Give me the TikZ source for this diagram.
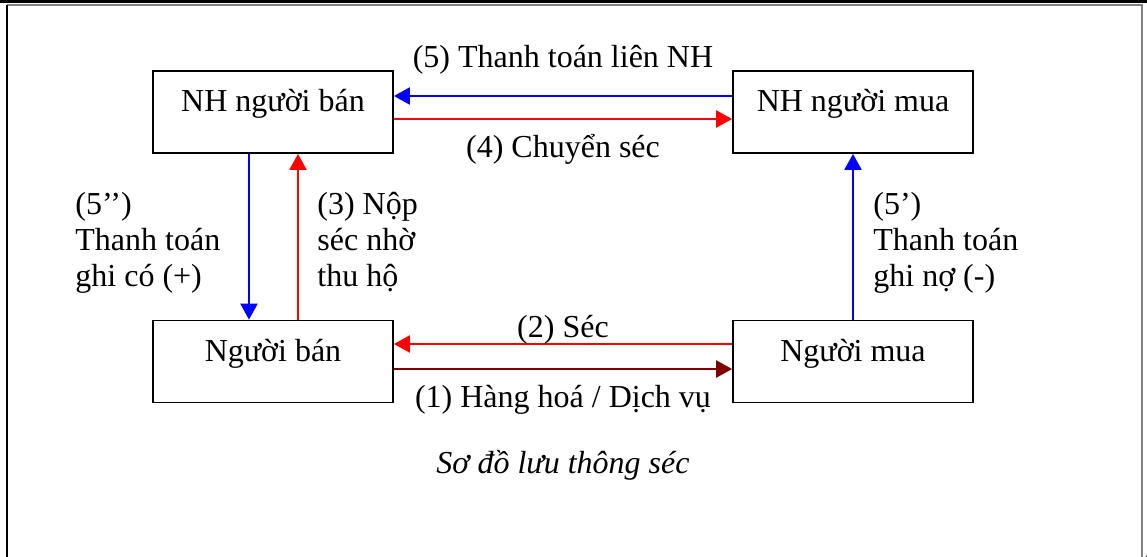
\documentclass[tikz,border=0pt]{standalone}
\usepackage{fontspec}
\setmainfont{Liberation Serif}
\usetikzlibrary{arrows.meta}
\definecolor{flowBlue}{RGB}{0, 0, 255}
\definecolor{flowRed}{RGB}{255, 0, 0}
\definecolor{goodsRed}{RGB}{128, 0, 0}
\definecolor{frameGrey}{RGB}{128, 128, 128}

\begin{document}
\begin{tikzpicture}[x=0.5pt, y=-0.5pt,
  font=\fontsize{16}{18}\selectfont,
  party/.style={draw, line width=0.9pt, minimum width=120pt, inner sep=0pt,
    text height=20.5pt, text depth=20.5pt},
  flow/.style={line width=1.2pt, -{Triangle[length=8pt,width=8.5pt]}},
  note/.style={align=left, anchor=base west, inner sep=0pt}]
  \useasboundingbox (0,0) rectangle (1147,557);

  % page rule and frame
  \fill (0,0) rectangle (1147,3);
  \draw[frameGrey, line width=1pt] (7,4.5) -- (1141.5,4.5) -- (1141.5,557);
  \draw[line width=1pt] (7,4.5) -- (7,557);
  \node[anchor=base west, inner sep=0pt] (nextpage) at (1143.5,571) {(};

  % the four parties
  \node[party] (nhBan) at (273,112) {NH người bán};
  \node[party] (nhMua) at (853,112) {NH người mua};
  \node[party] (ban) at (273,361.5) {Người bán};
  \node[party] (mua) at (853,361.5) {Người mua};

  % bank to bank
  \draw[flow, flowBlue] ([yshift=8pt]nhMua.west) -- ([yshift=8pt]nhBan.east);
  \draw[flow, flowRed] ([yshift=-3.5pt]nhBan.east) -- ([yshift=-3.5pt]nhMua.west);
  \node[anchor=base] (lblFive) at (563,68) {(5) Thanh toán liên NH};
  \node[anchor=base] (lblFour) at (563,157) {(4) Chuyển séc};

  % seller to buyer
  \draw[flow, flowRed] ([yshift=8.75pt]mua.west) -- ([yshift=8.75pt]ban.east);
  \draw[flow, goodsRed] ([yshift=-3.75pt]ban.east) -- ([yshift=-3.75pt]mua.west);
  \node[anchor=base] (lblTwo) at (563,337) {(2) Séc};
  \node[anchor=base] (lblOne) at (563,407) {(1) Hàng hoá / Dịch vụ};

  % seller side (base of a note is its last line)
  \draw[flow, flowBlue] ([xshift=-12pt]nhBan.south) -- ([xshift=-12pt]ban.north);
  \draw[flow, flowRed] ([xshift=12.5pt]ban.north) -- ([xshift=12.5pt]nhBan.south);
  \node[note] (lblFiveB) at (75,286) {(5’’)\\Thanh toán\\ghi có (+)};
  \node[note] (lblThree) at (317,286) {(3) Nộp\\séc nhờ\\thu hộ};

  % buyer side
  \draw[flow, flowBlue] (mua.north) -- (nhMua.south);
  \node[note] (lblFiveA) at (873,286) {(5’)\\Thanh toán\\ghi nợ (-)};

  \node[anchor=base, font=\fontsize{16}{18}\selectfont\itshape] (caption) at (563,473) {Sơ đồ lưu thông séc};
\end{tikzpicture}
\end{document}
